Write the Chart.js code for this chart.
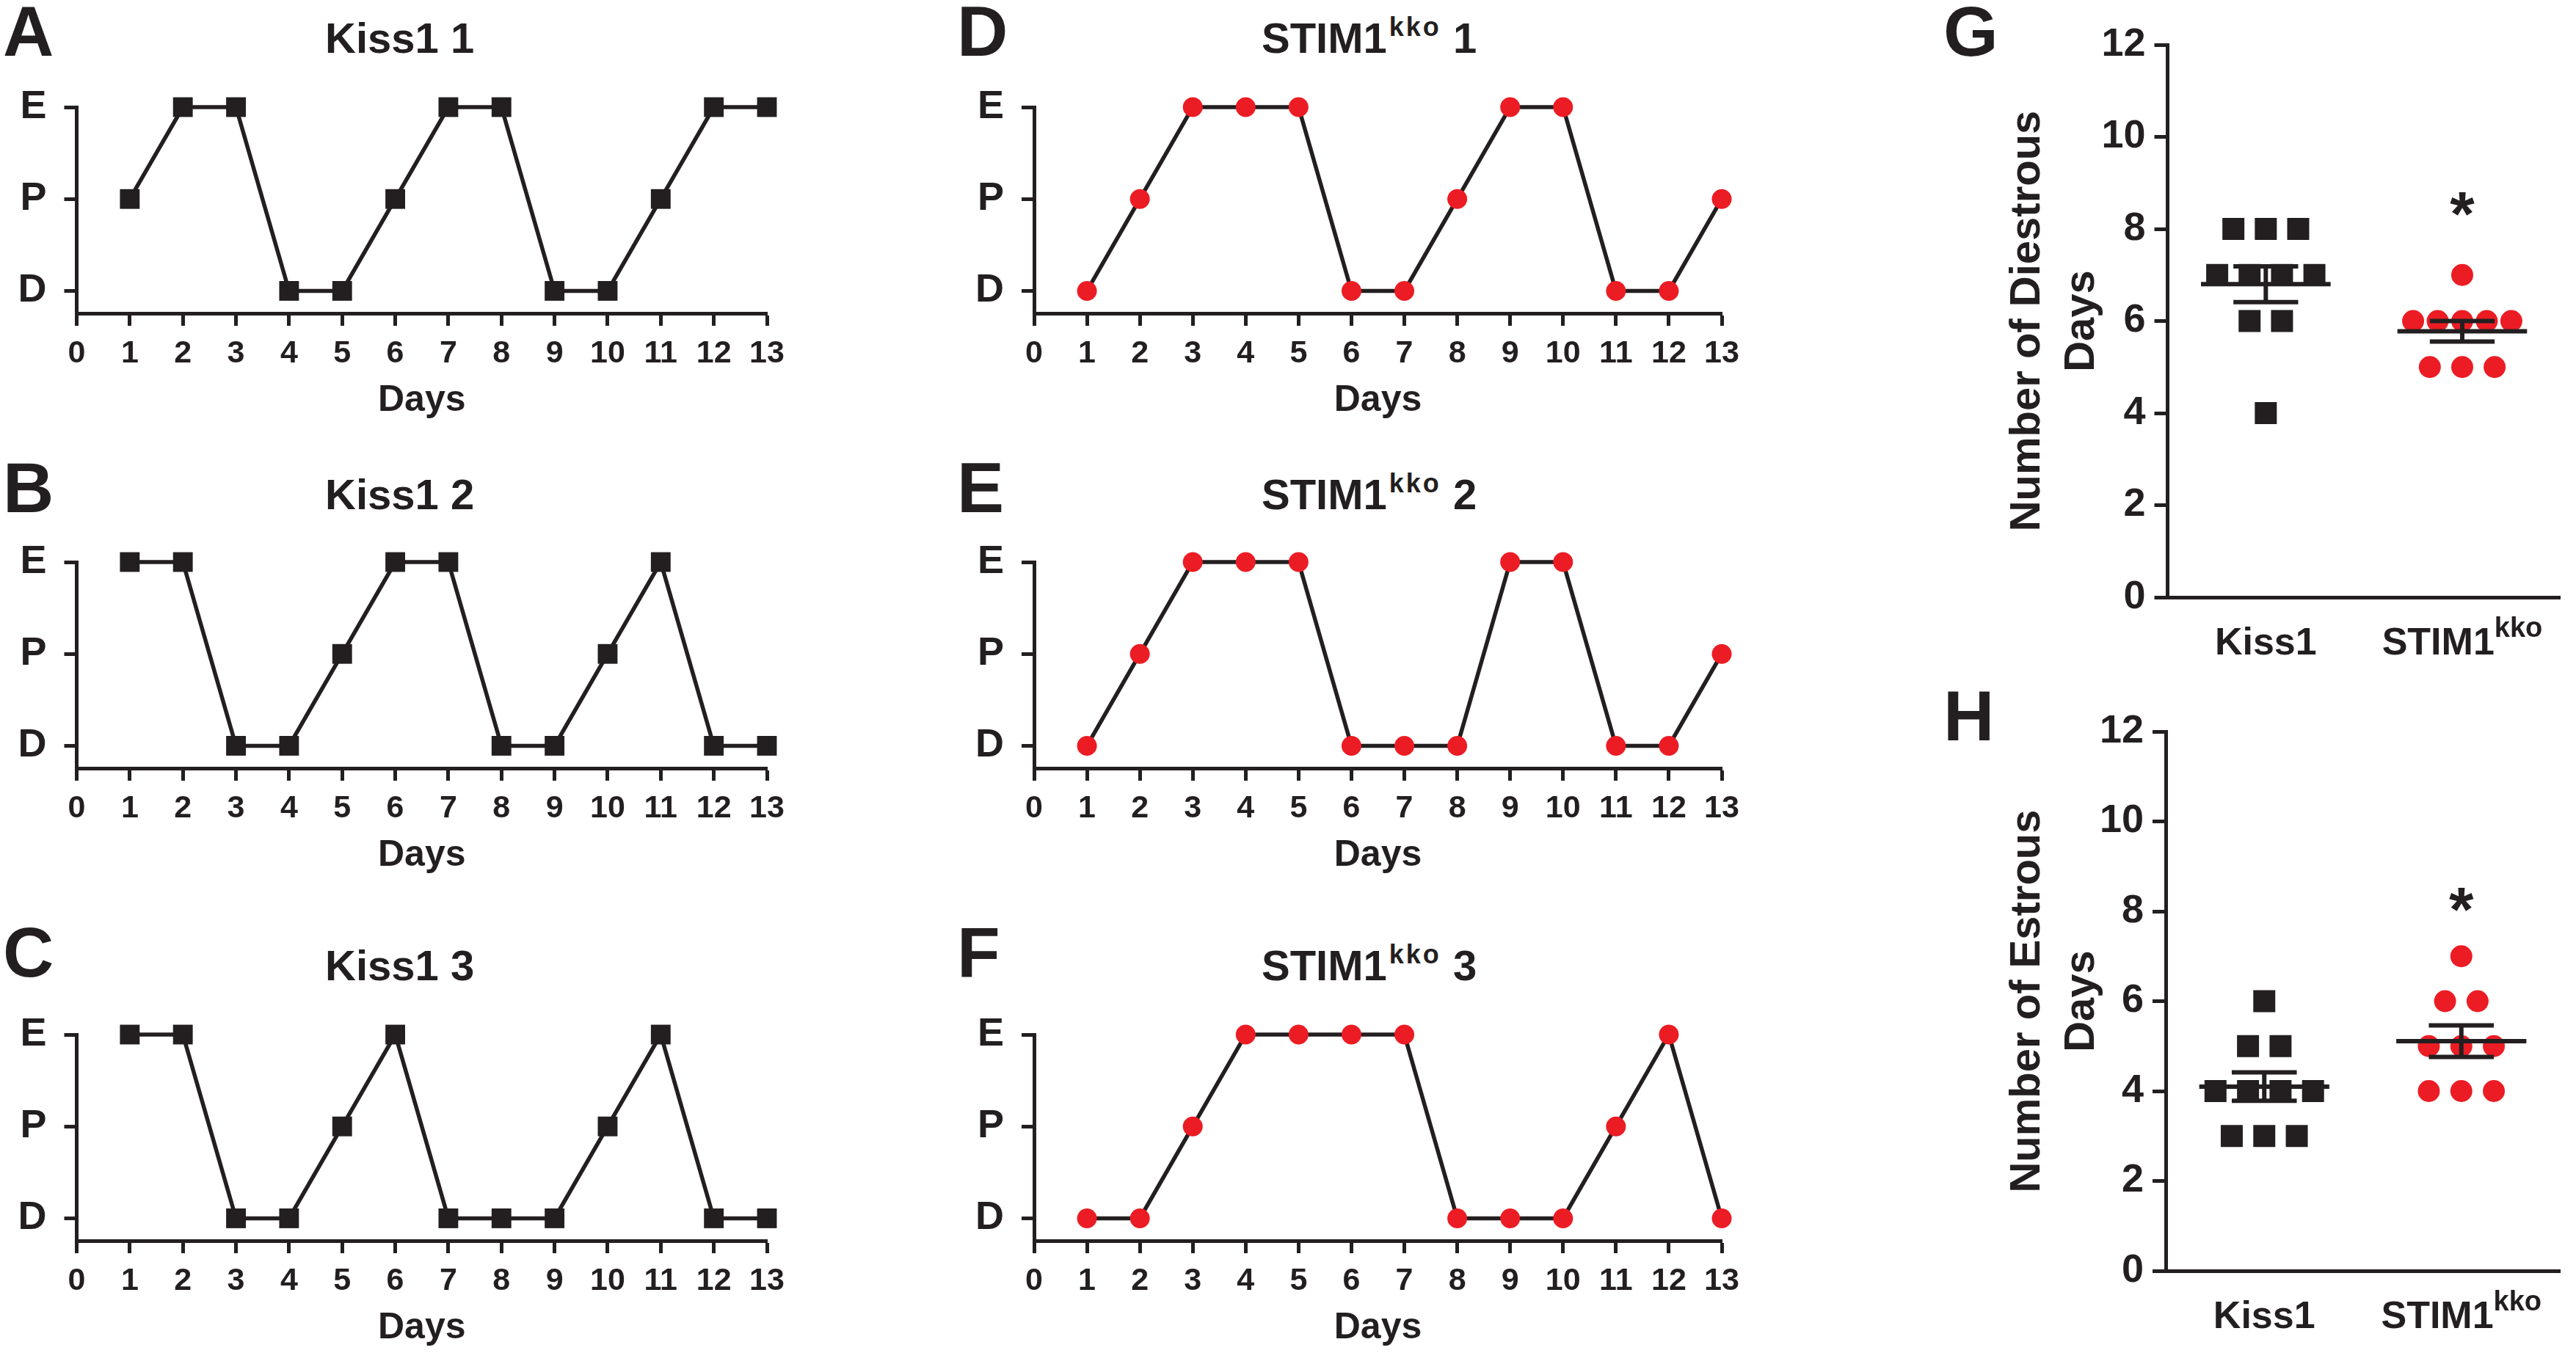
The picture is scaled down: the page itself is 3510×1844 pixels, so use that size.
<!DOCTYPE html>
<html>
<head>
<meta charset="utf-8">
<script src="https://cdn.jsdelivr.net/npm/chart.js@4.4.1/dist/chart.umd.min.js"></script>
<style>
  html, body { margin: 0; padding: 0; background: #fff; }
  #fig { position: relative; width: 3510px; height: 1844px; overflow: hidden; font-family: "Liberation Sans", Arial, sans-serif; color: #231f20; }
  .txt { position: absolute; line-height: 0; font-weight: bold; white-space: pre; }
  canvas { position: absolute; }
</style>
</head>
<body>
<div id="fig"></div>
<script>
// --- data -------------------------------------------------------------
const dayTicks = [0, 1, 2, 3, 4, 5, 6, 7, 8, 9, 10, 11, 12, 13];
const days = [1, 2, 3, 4, 5, 6, 7, 8, 9, 10, 11, 12, 13];
const stageNames = ["D", "P", "E"];

const kiss1_1 = ["P", "E", "E", "D", "D", "P", "E", "E", "D", "D", "P", "E", "E"];
const kiss1_2 = ["E", "E", "D", "D", "P", "E", "E", "D", "D", "P", "E", "D", "D"];
const kiss1_3 = ["E", "E", "D", "D", "P", "E", "D", "D", "D", "P", "E", "D", "D"];
const stim_1 = ["D", "P", "E", "E", "E", "D", "D", "P", "E", "E", "D", "D", "P"];
const stim_2 = ["D", "P", "E", "E", "E", "D", "D", "D", "E", "E", "D", "D", "P"];
const stim_3 = ["D", "D", "P", "E", "E", "E", "E", "D", "D", "D", "P", "E", "D"];

const groupNames = ["Kiss1", "STIM1"];
const groupSup = ["", "kko"];
const diestrousKiss1 = [8, 8, 8, 7, 7, 7, 7, 6, 6, 4];
const diestrousStim = [7, 6, 6, 6, 6, 6, 5, 5, 5];
const estrousKiss1 = [6, 5, 5, 4, 4, 4, 4, 3, 3, 3];
const estrousStim = [7, 6, 6, 5, 5, 5, 4, 4, 4];
const countTicks = [0, 2, 4, 6, 8, 10, 12];
const sigDiestrous = [{ x: 2, y: 8.62 }];
const sigEstrous = [{ x: 2, y: 8.34 }];

// --- look --------------------------------------------------------------
const INK = "#231f20";
const RED = "#ec1c24";
const FAMILY = '"Liberation Sans", Arial, sans-serif';
const fig = document.getElementById("fig");

function font(size) {
  return { family: FAMILY, size, weight: "bold", lineHeight: 1.2 };
}

function addText(html, x, baseline, size) {
  const d = document.createElement("div");
  d.className = "txt";
  d.style.left = x + "px";
  d.style.top = (baseline - 0.3465 * size) + "px";
  d.style.fontSize = size + "px";
  d.innerHTML = html;
  fig.appendChild(d);
}

function makeCanvas(left, top, w, h) {
  const c = document.createElement("canvas");
  c.width = w; c.height = h;
  c.style.left = left + "px"; c.style.top = top + "px";
  c.style.width = w + "px"; c.style.height = h + "px";
  fig.appendChild(c);
  return c;
}

// --- estrous cycle panels (A-F) -----------------------------------------
function stageChart({ stages, color, style, radius, axisX, endX, colLeft, eY }) {
  const yWidth = axisX - colLeft;
  const padTop = 40, xHeight = 160;
  const w = Math.round(endX - colLeft + 60);
  const h = padTop + 281 + xHeight;
  const canvas = makeCanvas(colLeft, eY - padTop, w, h);
  const level = (s) => stageNames.indexOf(s);

  new Chart(canvas, {
    type: "line",
    data: {
      datasets: [{
        data: stages.map((s, i) => ({ x: days[i], y: level(s) })),
        borderColor: INK, borderWidth: 5.5, tension: 0,
        pointStyle: style, pointRadius: radius, pointHoverRadius: radius,
        pointBackgroundColor: color, pointBorderWidth: 0, clip: false,
      }],
    },
    options: {
      responsive: false, animation: false, devicePixelRatio: 1,
      layout: { padding: { top: padTop, right: w - (endX - colLeft), left: 0, bottom: 0 } },
      plugins: { legend: { display: false }, tooltip: { enabled: false } },
      scales: {
        x: {
          type: "linear", min: 0, max: 13,
          afterBuildTicks: (s) => { s.ticks = dayTicks.map((v) => ({ value: v })); },
          afterFit: (s) => { s.height = xHeight; s.paddingLeft = 0; s.paddingRight = 0; },
          ticks: { autoSkip: false, maxRotation: 0, padding: 12, color: INK, font: font(43) },
          grid: { drawOnChartArea: false, tickLength: 17, tickWidth: 5, tickColor: INK },
          border: { width: 5, color: INK },
          title: { display: true, text: "Days", color: INK, font: font(50), padding: { top: 0, bottom: 11 } },
        },
        y: {
          type: "linear", min: -0.244, max: 2,
          afterBuildTicks: (s) => { s.ticks = stageNames.map((n, i) => ({ value: i })); },
          afterFit: (s) => { s.width = yWidth; s.paddingTop = 0; s.paddingBottom = 0; },
          ticks: { callback: (v) => stageNames[v], padding: 24, color: INK, font: font(54) },
          grid: { drawOnChartArea: false, tickLength: 17, tickWidth: 5, tickColor: INK },
          border: { width: 5, color: INK },
        },
      },
    },
  });
}

const rows = [
  { eY: 146, titleBase: 72, letterBase: 76 },
  { eY: 766, titleBase: 694, letterBase: 698 },
  { eY: 1410, titleBase: 1336, letterBase: 1331 },
];
const cols = [
  { colLeft: 0, axisX: 104.5, endX: 1045, titleX: 443, letterX: 4 },
  { colLeft: 1305, axisX: 1409, endX: 2346, titleX: 1719, letterX: 1304 },
];
const panels = [
  { stages: kiss1_1, col: 0, row: 0, letter: "A", title: "Kiss1 1" },
  { stages: kiss1_2, col: 0, row: 1, letter: "B", title: "Kiss1 2" },
  { stages: kiss1_3, col: 0, row: 2, letter: "C", title: "Kiss1 3" },
  { stages: stim_1, col: 1, row: 0, letter: "D", title: "STIM1<sup>kko</sup> 1" },
  { stages: stim_2, col: 1, row: 1, letter: "E", title: "STIM1<sup>kko</sup> 2" },
  { stages: stim_3, col: 1, row: 2, letter: "F", title: "STIM1<sup>kko</sup> 3" },
];

for (const p of panels) {
  const c = cols[p.col], r = rows[p.row];
  const isStim = p.col === 1;
  stageChart({
    stages: p.stages,
    color: isStim ? RED : INK,
    style: isStim ? "circle" : "rect",
    radius: isStim ? 13.5 : 19,
    axisX: c.axisX, endX: c.endX, colLeft: c.colLeft, eY: r.eY,
  });
  addText(p.letter, c.letterX, r.letterBase, 96);
  const title = p.title.replace("<sup>kko</sup>",
    '<span style="font-size:36px;position:relative;top:-23px;margin-left:3px;letter-spacing:3px">kko</span>');
  addText(title, c.titleX, r.titleBase, 58);
}

// --- dot plots (G, H) ------------------------------------------------------
// spread equal values side by side, like a column scatter
function swarm(values, center) {
  const counts = {};
  values.forEach((v) => { counts[v] = (counts[v] || 0) + 1; });
  const seen = {};
  return values.map((v) => {
    const n = counts[v];
    const i = seen[v] = (seen[v] || 0) + 1;
    const step = n > 1 ? Math.min(0.165, 0.5 / (n - 1)) : 0;
    return { x: center + (i - 1 - (n - 1) / 2) * step, y: v };
  });
}

function meanSem(values) {
  const n = values.length;
  const m = values.reduce((a, b) => a + b, 0) / n;
  const sd = Math.sqrt(values.reduce((a, v) => a + (v - m) ** 2, 0) / (n - 1));
  return { m, sem: sd / Math.sqrt(n) };
}

function seg(points) {
  return { type: "line", data: points, borderColor: INK, borderWidth: 6, pointRadius: 0, order: 0, clip: false };
}

const catLabels = {
  id: "catLabels",
  afterDraw(chart) {
    const { ctx, scales: { x } } = chart;
    const base = x.top + 78;
    ctx.save();
    ctx.fillStyle = INK;
    ctx.textBaseline = "alphabetic";
    ctx.textAlign = "left";
    groupNames.forEach((name, i) => {
      const px = x.getPixelForValue(i + 1);
      ctx.font = "bold 52px " + FAMILY;
      const w1 = ctx.measureText(name).width;
      ctx.font = "bold 38px " + FAMILY;
      const w2 = groupSup[i] ? ctx.measureText(groupSup[i]).width : 0;
      const start = px - (w1 + w2) / 2;
      ctx.font = "bold 52px " + FAMILY;
      ctx.fillText(name, start, base);
      if (groupSup[i]) {
        ctx.font = "bold 38px " + FAMILY;
        ctx.fillText(groupSup[i], start + w1, base - 24);
      }
    });
    ctx.restore();
  },
};

const sigMarks = {
  id: "sigMarks",
  afterDraw(chart, args, opts) {
    const { ctx, scales: { x, y } } = chart;
    ctx.save();
    ctx.fillStyle = INK;
    ctx.textAlign = "center";
    ctx.textBaseline = "alphabetic";
    ctx.font = "bold 86px " + FAMILY;
    for (const s of opts.marks || []) {
      ctx.fillText("*", x.getPixelForValue(s.x), y.getPixelForValue(s.y) + 0.56 * 86);
    }
    ctx.restore();
  },
};

function dotChart({ groups, top, bottom, axisX, endX, yTitle, marks }) {
  const left = 2716;
  const padTop = 45, xHeight = 110;
  const w = 3510 - left;
  const h = padTop + (bottom - top) + xHeight;
  const canvas = makeCanvas(left, top - padTop, w, h);

  const datasets = [];
  groups.forEach((vals, gi) => {
    const c = gi + 1;
    const { m, sem } = meanSem(vals);
    datasets.push(seg([{ x: c - 0.33, y: m }, { x: c + 0.33, y: m }]));
    datasets.push(seg([{ x: c - 0.165, y: m + sem }, { x: c + 0.165, y: m + sem }]));
    datasets.push(seg([{ x: c - 0.165, y: m - sem }, { x: c + 0.165, y: m - sem }]));
    datasets.push(seg([{ x: c, y: m - sem }, { x: c, y: m + sem }]));
    const isStim = gi === 1;
    datasets.push({
      type: "scatter", data: swarm(vals, c), order: 1, clip: false,
      pointStyle: isStim ? "circle" : "rect",
      pointRadius: isStim ? 15 : 21.2, pointHoverRadius: isStim ? 15 : 21.2,
      pointBackgroundColor: isStim ? RED : INK, pointBorderWidth: 0,
    });
  });

  new Chart(canvas, {
    type: "scatter",
    data: { datasets },
    options: {
      responsive: false, animation: false, devicePixelRatio: 1,
      layout: { padding: { top: padTop, right: w - (endX - left), left: 0, bottom: 0 } },
      plugins: { legend: { display: false }, tooltip: { enabled: false }, sigMarks: { marks } },
      scales: {
        x: {
          type: "linear", min: 0.5, max: 2.5,
          afterFit: (s) => { s.height = xHeight; s.paddingLeft = 0; s.paddingRight = 0; },
          ticks: { display: false },
          grid: { display: false, drawTicks: false },
          border: { width: 5, color: INK },
        },
        y: {
          type: "linear", min: 0, max: 12,
          afterBuildTicks: (s) => { s.ticks = countTicks.map((v) => ({ value: v })); },
          afterFit: (s) => { s.width = axisX - left; s.paddingTop = 0; s.paddingBottom = 0; },
          ticks: { padding: 12, color: INK, font: font(54) },
          grid: { drawOnChartArea: false, tickLength: 18, tickWidth: 5, tickColor: INK },
          border: { width: 5, color: INK },
          title: { display: true, text: yTitle, color: INK, font: { family: FAMILY, size: 58, weight: "bold", lineHeight: 1.28 }, padding: { top: 10, bottom: 0 } },
        },
      },
    },
    plugins: [catLabels, sigMarks],
  });
}

dotChart({
  groups: [diestrousKiss1, diestrousStim], top: 61, bottom: 814, axisX: 2953.5, endX: 3505,
  yTitle: ["Number of Diestrous", "Days"], marks: sigDiestrous,
});
dotChart({
  groups: [estrousKiss1, estrousStim], top: 997, bottom: 1732, axisX: 2951, endX: 3488,
  yTitle: ["Number of Estrous", "Days"], marks: sigEstrous,
});
addText("G", 2648, 76, 96);
addText("H", 2648, 1009, 96);
</script>
</body>
</html>
